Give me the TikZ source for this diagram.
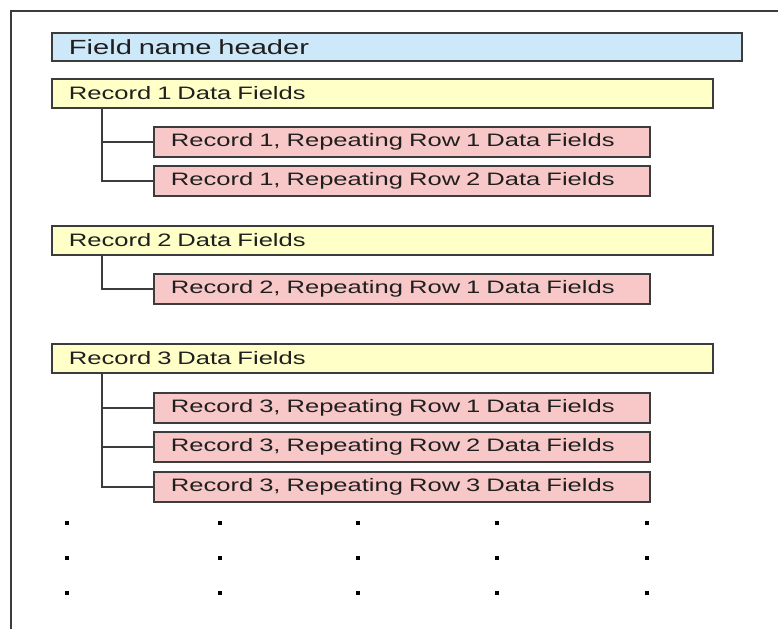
\documentclass[tikz,border=0pt]{standalone}
\usepackage{fontspec}
\setmainfont{Liberation Sans}
\newfontfamily\widefont[FakeStretch=1.42]{Liberation Sans}
\definecolor{hdrblue}{RGB}{204,232,249}
\definecolor{recyellow}{RGB}{255,255,200}
\definecolor{rowpink}{RGB}{248,200,200}
\definecolor{edgegray}{RGB}{60,60,60}
\tikzset{
  box/.style={draw=edgegray, line width=1.8pt, anchor=north west, inner xsep=17pt,
    inner ysep=0pt, minimum height=29pt, align=left, text=black!88,
    font=\widefont\fontsize{18}{20}\selectfont},
  header/.style={box, fill=hdrblue, text width=656pt, minimum height=28pt,
    font=\widefont\fontsize{20.5}{24}\selectfont},
  record/.style={box, fill=recyellow, text width=627pt},
  reprow/.style={box, fill=rowpink, text width=462pt, minimum height=30pt},
  tree/.style={draw=edgegray, line width=1.8pt},
}
\begin{document}
\begin{tikzpicture}[x=1pt,y=-1pt]
  \useasboundingbox (0,0) rectangle (780,629);
  \fill[white] (0,0) rectangle (780,629);
  % outer frame, open at right and bottom
  \draw[edgegray, line width=2pt] (11,629) -- (11,11) -- (778,11);

  \node[header] (hdr) at (51,32) {Field name header};

  % record 1
  \node[record] (rec1) at (51,78) {Record 1 Data Fields};
  \node[reprow] (rec1a) at (153,126) {Record 1, Repeating Row 1 Data Fields};
  \node[reprow] (rec1b) at (153,165) {Record 1, Repeating Row 2 Data Fields};
  \draw[tree] ([xshift=51pt]rec1.south west) |- (rec1a.west);
  \draw[tree] ([xshift=51pt]rec1.south west) |- (rec1b.west);

  % record 2
  \node[record] (rec2) at (51,225) {Record 2 Data Fields};
  \node[reprow] (rec2a) at (153,273) {Record 2, Repeating Row 1 Data Fields};
  \draw[tree] ([xshift=51pt]rec2.south west) |- (rec2a.west);

  % record 3
  \node[record] (rec3) at (51,343) {Record 3 Data Fields};
  \node[reprow] (rec3a) at (153,392) {Record 3, Repeating Row 1 Data Fields};
  \node[reprow] (rec3b) at (153,431) {Record 3, Repeating Row 2 Data Fields};
  \node[reprow] (rec3c) at (153,471) {Record 3, Repeating Row 3 Data Fields};
  \foreach \r in {rec3a,rec3b,rec3c}
    \draw[tree] ([xshift=51pt]rec3.south west) |- (\r.west);

  % continuation dots
  \foreach \y in {523,558,593}
    \foreach \x in {67,220,358,497,647}
      \fill[black] (\x-2,\y-2) rectangle ++(4,4);
\end{tikzpicture}
\end{document}
